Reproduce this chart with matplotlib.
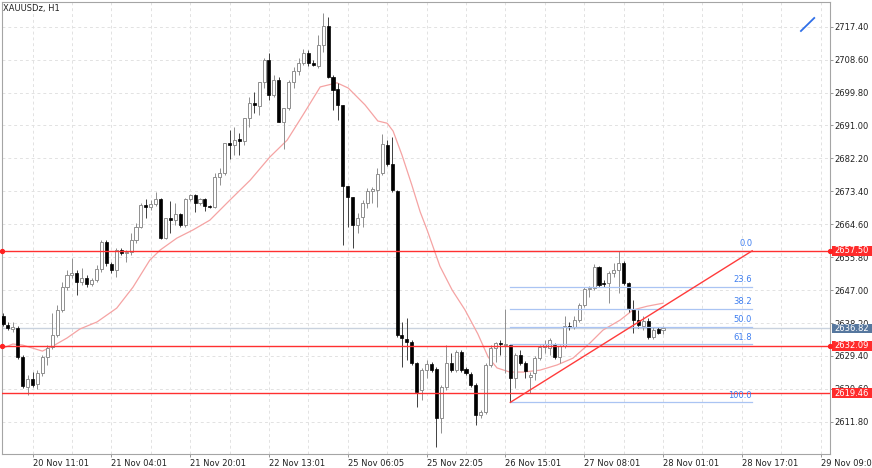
import matplotlib
matplotlib.use("Agg")
import matplotlib.pyplot as plt
import matplotlib.transforms as mtransforms
from matplotlib.patches import Rectangle
import numpy as np

plt.rcParams['font.family'] = ['DejaVu Sans']

# ---------------- data (XAUUSDz, H1) ----------------
opens = [2640.1, 2637.7, 2636.6, 2636.9, 2629.1, 2621.1, 2623.2, 2621.9, 2624.8, 2629.1,
         2631.8, 2635.0, 2641.7, 2647.8, 2651.0, 2651.6, 2649.2, 2650.2, 2648.6, 2649.7,
         2652.6, 2659.9, 2654.0, 2652.4, 2657.7, 2656.9, 2657.2, 2660.4, 2663.9, 2669.7,
         2669.2, 2670.0, 2671.4, 2660.9, 2666.3, 2665.7, 2667.3, 2664.4, 2671.4, 2672.4,
         2670.3, 2671.4, 2669.5, 2669.2, 2677.2, 2678.3, 2686.3, 2685.8, 2687.4, 2686.9,
         2693.0, 2697.0, 2696.2, 2702.6, 2708.5, 2699.2, 2703.2, 2691.9, 2695.7, 2702.6,
         2705.6, 2707.7, 2710.4, 2707.7, 2706.9, 2712.5, 2717.6, 2704.0, 2700.8, 2696.5,
         2674.8, 2671.9, 2664.4, 2666.5, 2670.3, 2673.5, 2673.8, 2678.3, 2685.8, 2680.7,
         2673.5, 2635.0, 2633.9, 2633.1, 2627.5, 2620.3, 2625.6, 2627.2, 2625.9, 2612.8,
         2621.1, 2627.5, 2625.6, 2630.4, 2625.9, 2624.6, 2621.6, 2613.6, 2614.4, 2627.0,
         2631.5, 2632.9, 2632.4, 2632.3, 2623.5, 2629.6, 2627.5, 2623.8, 2624.8, 2628.8,
         2631.8, 2631.5, 2632.3, 2629.1, 2632.1, 2637.4, 2637.1, 2639.0, 2643.0, 2647.3,
         2647.6, 2653.2, 2648.9, 2648.9, 2651.6, 2652.4, 2654.2, 2648.9, 2641.9, 2639.0,
         2637.4, 2638.7, 2634.5, 2636.6, 2636.3]
highs = [2640.9, 2638.5, 2638.5, 2637.4, 2629.6, 2624.3, 2625.1, 2625.6, 2629.6, 2632.3,
         2640.9, 2643.0, 2649.2, 2652.4, 2655.6, 2652.4, 2652.9, 2651.0, 2650.2, 2653.7,
         2660.4, 2660.4, 2654.5, 2658.3, 2658.3, 2657.7, 2662.3, 2664.9, 2670.3, 2671.4,
         2671.1, 2673.2, 2671.6, 2666.3, 2670.8, 2670.3, 2667.6, 2671.6, 2672.7, 2672.7,
         2671.6, 2671.6, 2669.7, 2678.3, 2679.6, 2686.3, 2689.8, 2690.6, 2689.0, 2693.0,
         2698.6, 2700.0, 2702.6, 2709.0, 2710.4, 2704.5, 2704.0, 2695.7, 2703.2, 2706.6,
         2709.0, 2711.4, 2711.2, 2708.5, 2715.2, 2721.1, 2720.0, 2704.5, 2702.4, 2696.5,
         2674.8, 2671.9, 2667.6, 2671.1, 2674.3, 2674.6, 2679.6, 2688.7, 2687.1, 2687.9,
         2673.8, 2638.5, 2639.5, 2633.7, 2627.8, 2626.2, 2628.3, 2627.8, 2626.4, 2621.6,
         2632.3, 2630.2, 2631.0, 2631.0, 2626.4, 2625.1, 2622.2, 2614.9, 2627.5, 2632.3,
         2633.1, 2633.7, 2641.9, 2632.6, 2630.2, 2631.0, 2628.0, 2625.1, 2629.4, 2632.3,
         2633.7, 2634.2, 2632.9, 2632.3, 2640.1, 2638.5, 2640.1, 2643.5, 2647.8, 2648.1,
         2654.0, 2653.4, 2649.7, 2652.1, 2654.2, 2657.5, 2654.8, 2649.2, 2644.4, 2641.7,
         2640.1, 2639.5, 2637.1, 2637.1, 2637.4]
lows = [2637.4, 2636.3, 2635.8, 2628.6, 2620.8, 2619.0, 2621.1, 2620.6, 2624.0, 2627.0,
        2631.3, 2634.5, 2641.1, 2647.0, 2650.2, 2645.7, 2648.4, 2647.8, 2648.1, 2649.2,
        2651.8, 2653.4, 2651.6, 2650.5, 2656.4, 2654.5, 2656.4, 2659.6, 2663.6, 2666.3,
        2668.4, 2669.5, 2660.6, 2660.6, 2662.3, 2664.4, 2663.9, 2663.9, 2670.8, 2667.9,
        2669.7, 2668.1, 2668.9, 2668.9, 2675.1, 2677.8, 2682.0, 2683.1, 2683.1, 2685.8,
        2690.6, 2694.3, 2693.8, 2701.0, 2697.8, 2698.6, 2691.9, 2684.7, 2695.1, 2701.0,
        2704.5, 2707.2, 2706.9, 2706.9, 2706.4, 2710.6, 2703.7, 2695.1, 2692.5, 2659.0,
        2663.9, 2658.3, 2662.3, 2663.9, 2668.9, 2670.3, 2669.2, 2677.8, 2680.2, 2673.2,
        2634.5, 2626.4, 2628.3, 2627.0, 2615.7, 2617.6, 2623.5, 2625.1, 2605.0, 2608.8,
        2620.3, 2625.1, 2625.1, 2625.1, 2624.3, 2621.1, 2610.9, 2612.8, 2613.9, 2626.4,
        2627.8, 2629.6, 2624.8, 2617.0, 2620.8, 2627.0, 2623.5, 2619.5, 2623.0, 2628.3,
        2630.2, 2629.6, 2628.6, 2627.5, 2631.5, 2636.3, 2636.6, 2638.5, 2642.5, 2645.2,
        2647.0, 2647.8, 2647.8, 2643.5, 2650.5, 2646.2, 2648.4, 2641.1, 2635.5, 2636.9,
        2636.3, 2633.9, 2633.9, 2635.3, 2635.3]
closes = [2637.9, 2636.9, 2637.1, 2629.1, 2621.4, 2623.2, 2621.6, 2624.8, 2629.1, 2631.5,
          2635.0, 2641.7, 2647.8, 2651.0, 2651.6, 2649.2, 2650.2, 2648.6, 2649.7, 2652.6,
          2659.9, 2654.2, 2652.4, 2657.7, 2656.9, 2657.2, 2660.4, 2663.9, 2669.7, 2669.2,
          2670.0, 2671.4, 2660.9, 2666.3, 2665.7, 2667.3, 2664.4, 2671.4, 2672.4, 2670.3,
          2671.4, 2669.5, 2669.2, 2677.2, 2678.3, 2686.3, 2685.8, 2687.1, 2686.9, 2693.0,
          2697.0, 2696.5, 2702.6, 2708.5, 2699.2, 2703.2, 2691.9, 2695.7, 2702.6, 2705.6,
          2707.7, 2710.4, 2707.7, 2707.2, 2712.5, 2717.6, 2704.0, 2700.5, 2696.5, 2674.8,
          2671.9, 2664.4, 2666.3, 2670.3, 2673.5, 2674.0, 2678.0, 2686.0, 2680.7, 2673.8,
          2635.0, 2634.2, 2633.1, 2627.5, 2619.8, 2625.6, 2627.2, 2625.6, 2612.8, 2621.1,
          2627.5, 2625.6, 2630.4, 2625.6, 2624.8, 2621.6, 2613.6, 2614.4, 2627.0, 2631.5,
          2632.9, 2632.6, 2632.7, 2623.5, 2629.6, 2627.5, 2625.4, 2624.3, 2628.8, 2631.8,
          2632.6, 2633.7, 2629.1, 2632.1, 2637.4, 2637.1, 2639.0, 2643.0, 2647.3, 2647.6,
          2653.2, 2648.4, 2648.6, 2651.6, 2652.4, 2654.2, 2648.9, 2642.2, 2639.0, 2637.7,
          2638.7, 2634.5, 2636.3, 2635.5, 2636.82]

# moving average : bar index, value
ma_bar = [0, 2, 4, 6, 8, 10.2, 13, 15.6, 19.1, 21.7, 23.1, 26.4, 29.8, 31.9, 35.3, 38.6,
          42.0, 46.1, 50.2, 54.2, 57.7, 60.9, 64.4, 67.8, 70.1, 73.5, 76.1, 78.0, 79.2,
          81.0, 83.0, 84.7, 86.1, 88.7, 91.2, 93.8, 96.4, 98.5, 100.3, 102.9, 105.6,
          109.0, 112.5, 115.7, 119.2, 121.8, 125.3, 127.9, 130.8, 134.0]
ma_val = [2631.5, 2632.6, 2632.3, 2631.5, 2630.7, 2632.1, 2634.2, 2636.6, 2638.5, 2640.9,
          2642.2, 2647.8, 2655.0, 2657.7, 2660.9, 2663.1, 2665.7, 2671.1, 2676.4, 2682.6,
          2687.1, 2693.8, 2701.3, 2702.4, 2701.0, 2696.5, 2692.2, 2691.6, 2689.5, 2683.1,
          2675.1, 2667.9, 2663.1, 2653.4, 2647.0, 2641.7, 2635.3, 2629.1, 2626.2, 2625.1,
          2625.1, 2625.6, 2627.0, 2628.8, 2632.9, 2636.3, 2639.0, 2641.7, 2642.7, 2643.5]

x_labels = ["20 Nov 11:01", "21 Nov 04:01", "21 Nov 20:01", "22 Nov 13:01",
            "25 Nov 06:05", "25 Nov 22:05", "26 Nov 15:01", "27 Nov 08:01",
            "28 Nov 01:01", "28 Nov 17:01", "29 Nov 09:01"]
x_label_bars = [6, 22, 38, 54, 70, 86, 102, 118, 134, 150, 166]
y_ticks = [2611.80, 2620.60, 2629.40, 2638.20, 2647.00, 2655.80, 2664.60,
           2673.40, 2682.20, 2691.00, 2699.80, 2708.60, 2717.40]

red_levels = [2657.50, 2632.09, 2619.46]
red_dots = [2657.50, 2632.09]
bid = 2636.82

fib_high = 2657.5
fib_low = 2617.0
fib_ratios = [0.0, 23.6, 38.2, 50.0, 61.8, 100.0]
fib_start_bar = 103
fib_end_bar = 152.1

trend_bars = [103, 152.1]
trend_prices = [2617.0, 2657.5]

blue_bars = [162.0, 164.7]
blue_prices = [2716.25, 2719.73]

# ---------------- figure ----------------
W, H = 872, 468
fig = plt.figure(figsize=(W / 100, H / 100), dpi=100)
fig.patch.set_facecolor('white')
ax = fig.add_axes([2 / W, 1 - 454 / H, 828 / W, 452 / H])
ax.set_facecolor('white')
ax.set_xlim(-0.2, 167.9)
ax.set_ylim(2603.2, 2724.0)

o = np.array(opens); h = np.array(highs); l = np.array(lows); c = np.array(closes)
idx = np.arange(len(o))
up = c >= o

# grid
grid_kw = dict(color='#e2e2e2', lw=0.7, ls=(0, (3, 3)), zorder=0.5)
for v in y_ticks:
    ax.axhline(v, **grid_kw)
for b in range(6, 168, 8):
    ax.axvline(b, **grid_kw)

# bid line
ax.axhline(bid, color='#c9d2de', lw=1.0, zorder=1)

# moving average
ax.plot(ma_bar, ma_val, color='#f5a3a3', lw=0.9, zorder=1.5)

# candles
ax.vlines(idx[up], l[up], h[up], colors='#8f8f8f', lw=0.7, zorder=3)
ax.vlines(idx[~up], l[~up], h[~up], colors='#404040', lw=0.7, zorder=3)
bot = np.minimum(o, c)
hgt = np.maximum(np.abs(c - o), 0.15)
ax.bar(idx[up], hgt[up], bottom=bot[up], width=0.62, color='white',
       edgecolor='#8f8f8f', lw=0.7, zorder=4)
ax.bar(idx[~up], hgt[~up], bottom=bot[~up], width=0.62, color='black',
       edgecolor='black', lw=0.5, zorder=4)

# fibonacci
for r in fib_ratios:
    lev = fib_high - (fib_high - fib_low) * r / 100.0
    ax.plot([fib_start_bar, fib_end_bar], [lev, lev], color='#aac4f3', lw=0.9, zorder=5)
    ax.text(fib_end_bar, lev + 0.7, f"{r:.1f}", color='#3f7ff0', fontsize=6,
            ha='right', va='bottom', zorder=6)

# red horizontal lines
for v in red_levels:
    ax.axhline(v, color='#ff3030', lw=1.0, zorder=5.5)

# trend line
ax.plot(trend_bars, trend_prices, color='#ff3b3b', lw=1.0, zorder=5.5)

# small blue line
ax.plot(blue_bars, blue_prices, color='#2f6fe8', lw=1.3, zorder=6)

# axes styling
for sp in ax.spines.values():
    sp.set_color('#a5a5a5')
    sp.set_linewidth(0.8)
ax.yaxis.tick_right()
ax.set_yticks(y_ticks)
ax.set_yticklabels([f"{v:.2f}" for v in y_ticks])
ax.tick_params(axis='y', length=2, width=0.6, color='#888888', pad=1,
               labelsize=6, labelcolor='#222222')
ax.set_xticks(x_label_bars)
ax.set_xticklabels(x_labels)
for t in ax.get_xticklabels():
    t.set_ha('left')
ax.tick_params(axis='x', length=2, width=0.6, color='#888888', pad=1.5,
               labelsize=6, labelcolor='#222222')

# right-side price boxes
trans = mtransforms.blended_transform_factory(ax.transAxes, ax.transData)
box_h = 2.5
x0 = 1 + 2 / 828
bw = 40 / 828


def price_box(val, color):
    ax.add_patch(Rectangle((x0, val - box_h / 2), bw, box_h, transform=trans,
                           facecolor=color, edgecolor='none', clip_on=False, zorder=20))
    ax.text(x0 + 2 / 828, val, f"{val:.2f}", transform=trans, color='white',
            fontsize=6, ha='left', va='center', clip_on=False, zorder=21)


for v in red_levels:
    price_box(v, '#ff2b2b')
price_box(bid, '#56779e')

for v in red_dots:
    ax.plot([1.0], [v], marker='o', ms=2.8, color='#ff2020', transform=trans,
            clip_on=False, zorder=22)
    ax.plot([0.0], [v], marker='o', ms=2.8, color='#ff2020', transform=trans,
            clip_on=False, zorder=22)

fig.text(3 / W, 1 - 8.5 / H, "XAUUSDz, H1", fontsize=6, color='#222222',
         ha='left', va='center')

fig.savefig("out.png", dpi=100, facecolor='white')
